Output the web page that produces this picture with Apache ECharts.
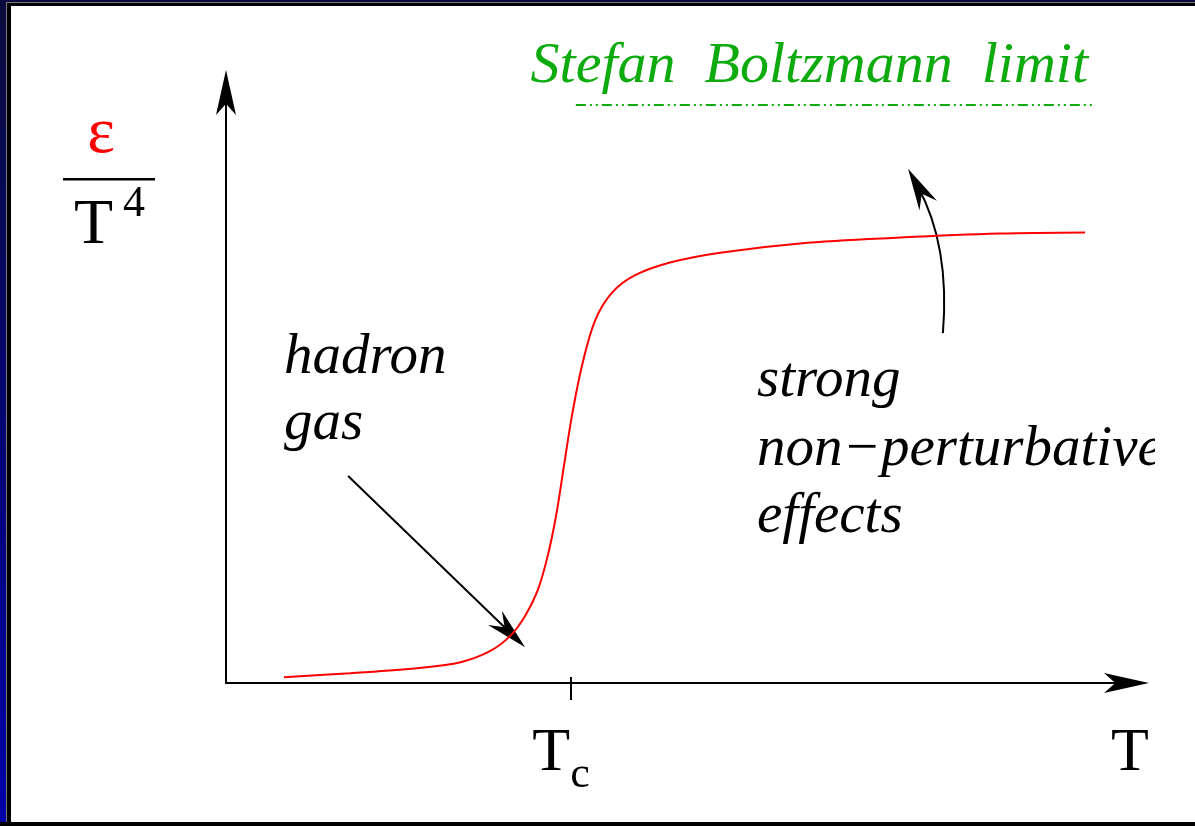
<!DOCTYPE html>
<html>
<head>
<meta charset="utf-8">
<script src="https://cdn.jsdelivr.net/npm/echarts@6/dist/echarts.min.js"></script>
<style>
  html, body { margin: 0; padding: 0; background: #ffffff; }
  #chart { width: 1195px; height: 826px; }
</style>
</head>
<body>
<div id="chart"></div>
<script>
// Temperature in units of the critical temperature Tc
const temperature = [0.168, 0.36, 0.56, 0.68, 0.765, 0.823, 0.867, 0.904, 0.933, 0.957, 0.98, 1.003, 1.032, 1.07, 1.119, 1.186, 1.287, 1.432, 1.664, 1.954, 2.243, 2.49];
// Energy density over T^4, normalised to the Stefan-Boltzmann value
const energyDensity = [0.010, 0.017, 0.026, 0.036, 0.055, 0.081, 0.116, 0.161, 0.221, 0.290, 0.377, 0.463, 0.549, 0.627, 0.675, 0.705, 0.727, 0.744, 0.760, 0.770, 0.777, 0.779];

const criticalTemp = 1;          // Tc
const axisEndTemp = 2.6;          // right end of the temperature axis
const sbLimit = 1;                // Stefan-Boltzmann limit
const sbRange = [1.014, 2.513];   // extent of the limit line in T/Tc

// annotation arrows, in data units: [fromT, fromE, toT, toE]
const hadronArrow = [0.354, 0.358, 0.867, 0.062];
const strongArrow = [2.078, 0.605, 1.977, 0.889];
const arrowBend = [0, -0.15];

const SERIF = '"Liberation Serif"';
const GREEN = '#0dab0d';

const chart = echarts.init(document.getElementById('chart'));

const curve = temperature.map((t, i) => [t, energyDensity[i]]);

// arrow with a (possibly bent) shaft and a notched head, placed through the axes
function renderArrow(params, api) {
  const p1 = api.coord([api.value(0), api.value(1)]);
  const p2 = api.coord([api.value(2), api.value(3)]);
  const c = arrowBend[params.dataIndex];
  const cp = [(p1[0] + p2[0]) / 2 - (p1[1] - p2[1]) * c,
              (p1[1] + p2[1]) / 2 - (p2[0] - p1[0]) * c];
  let dx = p2[0] - cp[0], dy = p2[1] - cp[1];
  const len = Math.hypot(dx, dy); dx /= len; dy /= len;
  const L = 42, W = 10;
  const bx = p2[0] - dx * L, by = p2[1] - dy * L;
  const nx = -dy, ny = dx;
  const head = [
    [p2[0], p2[1]],
    [bx + nx * W, by + ny * W],
    [p2[0] - dx * L * 0.68, p2[1] - dy * L * 0.68],
    [bx - nx * W, by - ny * W]
  ];
  return {
    type: 'group',
    children: [
      { type: 'bezierCurve',
        shape: { x1: p1[0], y1: p1[1], x2: p2[0] - dx * 20, y2: p2[1] - dy * 20, cpx1: cp[0], cpy1: cp[1] },
        style: { stroke: '#000', lineWidth: 2, fill: null } },
      { type: 'polygon', shape: { points: head }, style: { fill: '#000' } }
    ]
  };
}

// serif text anchored at its baseline
function label(text, x, baseline, size, color, align, italic) {
  return {
    type: 'text', z: 50, x: x, y: baseline,
    style: { text: text, x: 0, y: -0.3375 * size, align: align || 'left', verticalAlign: 'middle',
      fill: color || '#000', font: (italic ? 'italic ' : '') + size + 'px ' + SERIF }
  };
}
const italicLabel = (text, x, baseline, size, color, align) => label(text, x, baseline, size, color, align, true);

const option = {
  animation: false,
  backgroundColor: '#ffffff',
  grid: { left: 226, right: 72, top: 93, bottom: 143 },
  xAxis: [
    {
      type: 'value', min: 0, max: axisEndTemp, position: 'bottom',
      axisLine: {
        show: true, onZero: false,
        lineStyle: { color: '#000', width: 2 },
        symbol: ['none', 'arrow'], symbolSize: [15, 45], symbolOffset: [0, 26]
      },
      axisTick: { show: false },
      splitLine: { show: false },
      axisLabel: {
        customValues: [criticalTemp, axisEndTemp],
        margin: 40,
        formatter: v => (v === criticalTemp ? '{t|T}{s|c}' : '{e|T}'),
        rich: {
          t: { fontFamily: SERIF, fontSize: 62, color: '#000', verticalAlign: 'bottom' },
          s: { fontFamily: SERIF, fontSize: 44, color: '#000', verticalAlign: 'bottom', padding: [0, 20, -12, 0] },
          e: { fontFamily: SERIF, fontSize: 62, color: '#000', padding: [0, 0, 0, 14] }
        }
      }
    },
    {
      // short tick mark crossing the axis at Tc
      type: 'value', min: 0, max: axisEndTemp, position: 'bottom', offset: -6,
      axisLine: { show: false, onZero: false },
      axisTick: { show: true, customValues: [criticalTemp], length: 23, lineStyle: { color: '#000', width: 2 } },
      axisLabel: { show: false },
      splitLine: { show: false }
    }
  ],
  yAxis: {
    type: 'value', min: 0, max: 1.02,
    axisLine: {
      show: true, onZero: false,
      lineStyle: { color: '#000', width: 2 },
      symbol: ['none', 'arrow'], symbolSize: [15, 45], symbolOffset: [0, 23]
    },
    axisTick: { show: false },
    axisLabel: { show: false },
    splitLine: { show: false }
  },
  series: [
    {
      type: 'custom',
      z: 3,
      silent: true,
      renderItem: renderArrow,
      data: [hadronArrow, strongArrow]
    },
    {
      type: 'line',
      z: 4,
      data: curve,
      smooth: 0.35,
      showSymbol: false,
      lineStyle: { color: '#ff0000', width: 2 },
      markLine: {
        silent: true,
        symbol: 'none',
        lineStyle: { color: GREEN, width: 2, type: [10, 4, 2, 4, 2, 4] },
        label: { show: false },
        data: [[{ coord: [sbRange[0], sbLimit] }, { coord: [sbRange[1], sbLimit] }]]
      }
    }
  ],
  graphic: [
    // frame
    { type: 'rect', z: 100, shape: { x: 0, y: 0, width: 1195, height: 3 }, style: { fill: '#0a0a3c' } },
    { type: 'rect', z: 100, shape: { x: 0, y: 0, width: 6, height: 826 },
      style: { fill: new echarts.graphic.LinearGradient(0, 0, 0, 1, [
        { offset: 0, color: '#0a0a3c' }, { offset: 1, color: '#0000a8' }]) } },
    { type: 'rect', z: 100, shape: { x: 6, y: 3, width: 1189, height: 3 }, style: { fill: '#000' } },
    { type: 'rect', z: 100, shape: { x: 6, y: 3, width: 5, height: 823 }, style: { fill: '#000' } },
    { type: 'rect', z: 100, shape: { x: 6, y: 2, width: 1189, height: 1 }, style: { fill: '#777' } },
    { type: 'rect', z: 100, shape: { x: 6, y: 2, width: 1, height: 824 }, style: { fill: '#777' } },
    { type: 'rect', z: 100, shape: { x: 0, y: 822, width: 1195, height: 4 }, style: { fill: '#000' } },

    // y-axis title: epsilon over T^4
    label('ε', 101, 157, 66, '#ff0000', 'center'),
    { type: 'rect', z: 50, shape: { x: 63, y: 178, width: 92, height: 2.5 }, style: { fill: '#000' } },
    label('T', 74, 248, 64),
    label('4', 123, 219, 44),

    // Stefan-Boltzmann label
    italicLabel('Stefan  Boltzmann  limit', 1088, 86, 58, GREEN, 'right'),

    // annotations
    italicLabel('hadron', 284, 377, 57),
    italicLabel('gas', 284, 443, 57),
    italicLabel('strong', 757, 400, 57),
    italicLabel('non\u2212perturbative', 757, 469, 57),
    italicLabel('effects', 757, 536, 57),
    // figure edge trims the last letter
    { type: 'rect', z: 60, shape: { x: 1155, y: 430, width: 40, height: 60 }, style: { fill: '#fff' } }
  ]
};

chart.setOption(option);
</script>
</body>
</html>
